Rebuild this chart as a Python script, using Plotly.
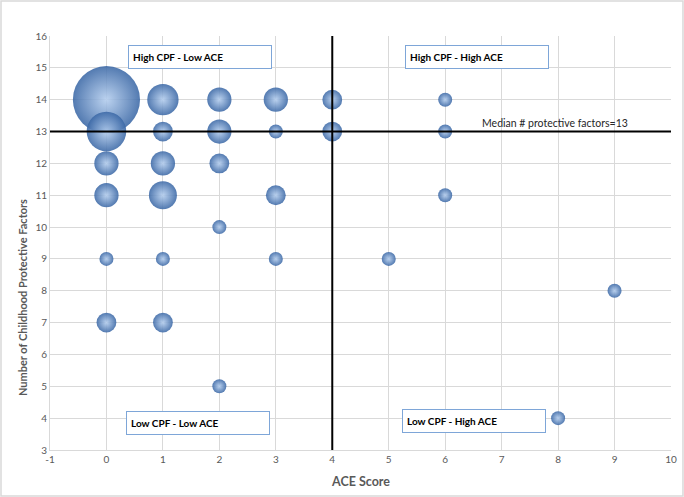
import plotly.graph_objects as go

# ---- data ----
ace_score = [0, 0, 0, 0, 0, 0,
             1, 1, 1, 1, 1, 1,
             2, 2, 2, 2, 2,
             3, 3, 3, 3,
             4, 4,
             5,
             6, 6, 6,
             8,
             9]
protective_factors = [14, 13, 12, 11, 9, 7,
                      14, 13, 12, 11, 9, 7,
                      14, 13, 12, 10, 5,
                      14, 13, 11, 9,
                      14, 13,
                      9,
                      14, 13, 11,
                      4,
                      8]
counts = [23, 8, 3, 3, 1, 2,
          5, 2, 3, 4, 1, 2,
          3, 3, 2, 1, 1,
          3, 1, 2, 1,
          2, 2,
          1,
          1, 1, 1,
          1,
          1]

x_tick_values = [-1, 0, 1, 2, 3, 4, 5, 6, 7, 8, 9, 10]
x_tick_labels = ["-1", "0", "1", "2", "3", "4", "5", "6", "7", "8", "9", "10"]
y_tick_values = [3, 4, 5, 6, 7, 8, 9, 10, 11, 12, 13, 14, 15, 16]
y_tick_labels = ["3", "4", "5", "6", "7", "8", "9", "10", "11", "12", "13", "14", "15", "16"]

ace_cutoff = 4
median_cpf = 13
x_range = [-1, 10]
y_range = [3, 16]

quadrant_labels = ["High CPF - Low ACE", "High CPF - High ACE",
                   "Low CPF - Low ACE", "Low CPF - High ACE"]
median_label = "Median # protective factors=13"
x_title = "ACE Score"
y_title = "Number of Childhood Protective Factors"

FONT = "Lato, 'Open Sans', sans-serif"
GRAY = "#595959"

fig = go.Figure()
fig.add_trace(go.Scatter(
    x=ace_score, y=protective_factors, mode="markers",
    marker=dict(
        size=counts, sizemode="area", sizeref=1 / 98,
        color="#3b68a6",
        gradient=dict(type="radial", color="#b3cdee"),
        opacity=0.88,
        line=dict(width=0),
    ),
    hoverinfo="x+y+text", text=[f"n={c}" for c in counts],
    showlegend=False,
))

# reference lines
fig.add_shape(type="line", xref="x", yref="y", x0=ace_cutoff, x1=ace_cutoff,
              y0=y_range[0], y1=y_range[1], line=dict(color="black", width=2))
fig.add_shape(type="line", xref="paper", yref="y", x0=0, x1=1,
              y0=median_cpf, y1=median_cpf, line=dict(color="black", width=2))

# quadrant label boxes (left x, center y)
box_pos = [(0.39, 15.34), (5.28, 15.34), (0.35, 3.85), (5.24, 3.90)]
for label, (bx, by) in zip(quadrant_labels, box_pos):
    fig.add_annotation(
        x=bx, y=by, xref="x", yref="y", xanchor="left", yanchor="middle",
        text=f"<b>{label}</b>", showarrow=False, align="left",
        width=134, height=14, borderpad=4,
        bordercolor="#7ea6d8", borderwidth=1, bgcolor="white",
        font=dict(family=FONT, size=10, color="black"),
    )

fig.add_annotation(x=6.61, y=13.27, xref="x", yref="y", xanchor="left",
                   yanchor="middle", text=median_label, showarrow=False,
                   font=dict(family=FONT, size=10.5, color="#262626"))

# axis titles
fig.add_annotation(x=0.5, y=-0.075, xref="paper", yref="paper",
                   xanchor="center", yanchor="middle",
                   text=f"<b>{x_title}</b>", showarrow=False,
                   font=dict(family=FONT, size=12.5, color=GRAY))
fig.add_annotation(x=-0.045, y=0.367, xref="paper", yref="paper",
                   xanchor="center", yanchor="middle", textangle=-90,
                   text=f"<b>{y_title}</b>", showarrow=False,
                   font=dict(family=FONT, size=11, color=GRAY))

# outer chart border
fig.add_shape(type="rect", xref="paper", yref="paper",
              x0=-0.0789, x1=1.0193, y0=-0.111, y1=1.0845,
              line=dict(color="#d9d9d9", width=1.5), layer="below")

axis_common = dict(
    showgrid=True, gridcolor="#d9d9d9", gridwidth=1,
    showline=True, linecolor="#d9d9d9", linewidth=1,
    zeroline=False, ticks="", automargin=False,
    tickfont=dict(family=FONT, size=10, color=GRAY),
)
fig.update_xaxes(range=x_range, tickmode="array", tickvals=x_tick_values,
                 ticktext=x_tick_labels, **axis_common)
fig.update_yaxes(range=y_range, tickmode="array", tickvals=y_tick_values,
                 ticktext=y_tick_labels, **axis_common)

fig.update_layout(
    width=684, height=497,
    margin=dict(l=50, r=13, t=36, b=47),
    paper_bgcolor="white", plot_bgcolor="white",
    font=dict(family=FONT),
)

fig.write_html("out.html",
               config={"displayModeBar": False},
               post_script="document.body.style.margin='0';"
                           "document.body.style.padding='0';")
